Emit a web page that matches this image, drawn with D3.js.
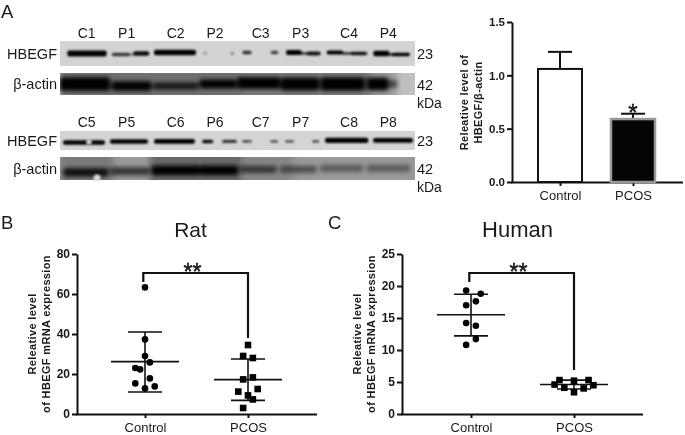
<!DOCTYPE html>
<html><head><meta charset="utf-8">
<script src="https://d3js.org/d3.v7.min.js"></script>
<style>html,body{margin:0;padding:0;background:#fff}svg{display:block;filter:blur(.35px)}text{font-family:"Liberation Sans",Arial,sans-serif;fill:#1a1a1a}</style>
</head><body><svg id="c" width="685" height="435"></svg>
<script>
// ---- Panel A blots: lane labels and band segments [start, end, intensity, thickness, shift] in blot units (0-1065)
const lanesTop = ["C1","P1","C2","P2","C3","P3","C4","P4"];
const lanesBottom = ["C5","P5","C6","P6","C7","P7","C8","P8"];
const laneLabelPos = [80,200,347,465,602,722,867,985];
const bandsHbegf1 = [[22,140,1.2,15,0],[155,210,.7,9,1],[205,225,.35,6,1],[220,268,.95,11,0],[282,408,1.2,14,-1],[430,440,.25,7,0],[512,522,.35,7,0],[547,575,.75,9,-1],[632,655,.65,9,-1],[678,725,1.2,12,-1],[720,745,.6,8,0],[740,782,.9,10,0],[800,850,1.2,10,-1],[845,872,.65,7,0],[870,922,.9,9,0],[940,988,1.25,14,0],[985,1000,.7,8,1],[995,1050,1,9,1]];
const haze1 = [];
const actin1 = [[0,150,1.4,34,0],[155,275,1.05,24,2],[280,415,.8,18,2],[418,530,1.1,22,0],[532,660,1.25,30,-1],[662,778,1.3,32,0],[782,915,1.4,34,0],[920,985,1.3,32,0],[985,1012,.5,20,0]];
const hazeActin1 = [[0,540,.42],[540,930,.36],[930,1010,.2]];
const bandsHbegf2 = [[9,135,1,11,1],[150,264,1.05,11,0],[282,405,1.15,12,0],[426,460,.95,9,0],[486,531,.7,8,0],[546,576,.55,7,0],[630,655,.5,7,0],[675,702,.5,7,0],[756,778,.55,7,0],[795,925,1.25,13,-1],[939,1059,1.2,12,-1]];
const actin2 = [[10,145,.85,22,2],[150,270,.6,20,1],[275,420,1.05,24,0],[420,535,1,24,0],[540,650,.55,18,-1],[660,770,.42,18,-1],[780,910,.32,18,-2],[920,1050,.32,18,-2]];
const hazeActin2 = [[0,160,.2],[270,545,.32],[545,700,.12]];
const hazeHbegf = [];
const blotRows = [
  {name:"HBEGF", mw:"23", bands:bandsHbegf1, haze:haze1, y0:41, y1:66, bg:"#d3d3d3", cy:.5},
  {name:"β-actin", mw:"42", bands:actin1, haze:hazeActin1, y0:73, y1:95, bg:"#c0c0c0", cy:.5},
  {name:"HBEGF", mw:"23", bands:bandsHbegf2, haze:hazeHbegf, y0:131, y1:150, bg:"#d4d4d4", cy:.55},
  {name:"β-actin", mw:"42", bands:actin2, haze:hazeActin2, y0:157, y1:180, bg:"#999999", cy:.58}
];
// small bubbles on the membrane: [blot unit, row index, radius]
const bubbles = [[87,2,2.8],[111,3,3.5]];
// ---- Panel A bar chart
const barCats = ["Control","PCOS"];
const barMeans = [1.06,0.59];
const barErr = [1.22,0.64];
const barTicks = [0,0.5,1,1.5];
// ---- Panel B
const ratCtrl = [63.3,37.3,29,25.8,23,22.3,17.8,15.3,12.8,13.8];
const ratCtrlSlot = [0,0,0,1,-2,-1,1,-2,0,2];
const ratPcos = [34.5,29,28,17.3,18.3,11.2,12.5,9.3,7.3,3];
const ratPcosSlot = [0,-1,1,-1,1,-2,2,0,1,-1];
const ratStats = [[26.2,11,41],[17.2,6.8,27.5]];
const ratTicks = [0,20,40,60,80];
// ---- Panel C
const humCtrl = [19.3,18.8,17,17.6,14.2,13.8,11.7,10.8];
const humCtrlSlot = [-1,2,-1,1,-1,1,1,-1];
const humPcos = [5.3,5.2,5.3,4.6,4.5,4.1,4,3.4];
const humPcosSlot = [-3,0,3,-4,4,-2,2,0];
const humStats = [[15.5,12.2,18.7],[4.6,3.9,5.3]];
const humTicks = [0,5,10,15,20,25];

const svg = d3.select("#c");
const defs = svg.append("defs");
[["b1",.9],["b2",2],["b3",3]].forEach(([id,s])=>{
  defs.append("filter").attr("id",id).attr("x","-20%").attr("y","-60%").attr("width","140%").attr("height","220%")
    .append("feGaussianBlur").attr("stdDeviation",s);
});
const ink = "#111";
function label(x,y,t,size,anchor,weight){
  return svg.append("text").attr("x",x).attr("y",y).attr("font-size",size).attr("text-anchor",anchor||"start").attr("font-weight",weight||"normal").text(t);
}
label(1,17.5,"A",18.5);label(1,229,"B",18.5);label(328,229,"C",18.5);

// ---- blots
const bx = d3.scaleLinear().domain([0,1065]).range([60,415]);
const shade = d3.scaleLinear().domain([0,1]).range([.12,1]).clamp(true);
blotRows.forEach((r,i)=>{
  const h = r.y1-r.y0, clipId="clip"+i;
  defs.append("clipPath").attr("id",clipId).append("rect").attr("x",bx(0)).attr("y",r.y0).attr("width",bx(1065)-bx(0)).attr("height",h);
  svg.append("rect").attr("x",bx(0)).attr("y",r.y0).attr("width",bx(1065)-bx(0)).attr("height",h).attr("fill",r.bg);
  const g = svg.append("g").attr("clip-path",`url(#${clipId})`);
  const isActin = r.name!=="HBEGF";
  g.append("g").attr("filter","url(#b3)").selectAll("rect").data(r.haze).join("rect")
    .attr("x",d=>bx(d[0])).attr("width",d=>bx(d[1])-bx(d[0])).attr("y",r.y0-6).attr("height",h+12)
    .attr("fill","#000").attr("opacity",d=>d[2]);
  const u = g.append("g").attr("filter",isActin?"url(#b2)":"url(#b1)");
  u.selectAll("rect").data(r.bands).join("rect")
    .attr("x",d=>bx(d[0])).attr("width",d=>bx(d[1])-bx(d[0]))
    .attr("y",d=>r.y0+h*r.cy-d[3]/5+d[4]).attr("height",d=>d[3]*.4)
    .attr("rx",2).attr("fill","#000").attr("opacity",d=>shade(d[2]));
  label(57,(r.y0+r.y1)/2+5,r.name,14.5,"end");
  label(417,(r.y0+r.y1)/2+5.5,r.mw,14.5);
});
bubbles.forEach(b=>{
  svg.append("circle").attr("cx",bx(b[0])).attr("cy",b[1]===2?142:178).attr("r",b[2]).attr("fill","#ddd").attr("filter","url(#b1)");
});
label(417,108,"kDa",14);label(417,192,"kDa",14);
[[lanesTop,38],[lanesBottom,127]].forEach(([l,y])=>{
  svg.append("g").selectAll("text").data(l).join("text").attr("x",(d,i)=>bx(laneLabelPos[i])).attr("y",y).attr("font-size",14).attr("text-anchor","middle").text(d=>d);
});

function axes(x0,x1,yBot,y,ticks,cx,fmt,fs){
  const sw=2;
  const ax=svg.append("g").attr("transform",`translate(${x0},0)`).call(d3.axisLeft(y).tickValues(ticks).tickFormat(fmt).tickSize(5).tickSizeOuter(0).tickPadding(2));
  ax.select(".domain").attr("stroke",ink).attr("stroke-width",sw);
  ax.selectAll(".tick line").attr("stroke",ink).attr("stroke-width",sw);
  ax.selectAll("text").attr("font-size",fs).attr("font-weight","bold").attr("font-family",'"Liberation Sans",sans-serif').attr("fill","#1a1a1a");
  const bot=svg.append("g").attr("transform",`translate(0,${yBot})`).call(d3.axisBottom(cx).tickSize(4).tickSizeOuter(0).tickPadding(4.5));
  bot.select(".domain").remove();
  bot.append("line").attr("x1",x0-1).attr("x2",x1).attr("y1",.5).attr("y2",.5).attr("stroke",ink).attr("stroke-width",sw);
  bot.selectAll(".tick line").attr("stroke",ink).attr("stroke-width",sw);
  bot.selectAll("text").attr("font-size",13).attr("font-family",'"Liberation Sans",sans-serif').attr("fill","#1a1a1a");
}
function yTitle(x,y,lines,size,gap){
  const t=svg.append("text").attr("transform",`translate(${x},${y}) rotate(-90)`).attr("text-anchor","middle").attr("font-size",size).attr("font-weight","bold").attr("letter-spacing",.35);
  lines.forEach((l,i)=>t.append("tspan").attr("x",0).attr("dy",i?gap:0).text(l));
}
function stars(x,y,t,size){
  return label(x,y,t,size,"middle").attr("stroke",ink).attr("stroke-width",.5);
}

// ---- Panel A bars
{
  const y=d3.scaleLinear().domain([0,1.5]).range([182,22]);
  const cx=d3.scalePoint().domain(barCats).range([560,633]);
  axes(512,683,182,y,barTicks,cx,d3.format(".1f"),11.5);
  const bw=44;
  barCats.forEach((c,i)=>{
    const px=cx(c);
    svg.append("line").attr("x1",px).attr("x2",px).attr("y1",y(barMeans[i])).attr("y2",y(barErr[i])).attr("stroke",ink).attr("stroke-width",2);
    svg.append("line").attr("x1",px-12).attr("x2",px+12).attr("y1",y(barErr[i])).attr("y2",y(barErr[i])).attr("stroke",ink).attr("stroke-width",2);
    svg.append("rect").attr("x",px-bw/2).attr("width",bw).attr("y",y(barMeans[i])).attr("height",y(0)-y(barMeans[i]))
      .attr("fill",i?"#050505":"#fff").attr("stroke",i?"#999":ink).attr("stroke-width",i?2.5:2);
  });
  stars(cx("PCOS"),121,"*",24);
  yTitle(468,102.5,["Releative level of","HBEGF/β-actin"],11,13.5);
}
// ---- scatter panels
function scatter(cfg){
  const y=d3.scaleLinear().domain(cfg.dom).range([414,254]);
  const cx=d3.scalePoint().domain(barCats).range(cfg.cats);
  axes(cfg.x0,cfg.x1,414,y,cfg.ticks,cx,d3.format("d"),12);
  const slot=d3.scaleLinear().domain([-1,1]).range([-4.85,4.85]);
  cfg.stats.forEach((s,i)=>{
    const c=cx(barCats[i]);
    svg.append("line").attr("x1",c).attr("x2",c).attr("y1",y(s[1])).attr("y2",y(s[2])).attr("stroke",ink).attr("stroke-width",1.6);
    svg.append("line").attr("x1",c-34).attr("x2",c+34).attr("y1",y(s[0])).attr("y2",y(s[0])).attr("stroke",ink).attr("stroke-width",1.6);
    [s[1],s[2]].forEach(v=>svg.append("line").attr("x1",c-17).attr("x2",c+17).attr("y1",y(v)).attr("y2",y(v)).attr("stroke",ink).attr("stroke-width",1.6));
  });
  svg.append("g").selectAll("circle").data(d3.zip(cfg.c,cfg.cs)).join("circle")
    .attr("cx",d=>cx(barCats[0])+slot(d[1])).attr("cy",d=>y(d[0])).attr("r",3.3).attr("fill","#000");
  svg.append("g").selectAll("rect").data(d3.zip(cfg.p,cfg.ps)).join("rect")
    .attr("x",d=>cx(barCats[1])+slot(d[1])-3.3).attr("y",d=>y(d[0])-3.3).attr("width",6.6).attr("height",6.6).attr("fill","#000");
  const a=cx(barCats[0]),b=cx(barCats[1]);
  svg.append("path").attr("d",`M${a-1.7},${cfg.bl} V273 H${b} V${cfg.br}`).attr("fill","none").attr("stroke",ink).attr("stroke-width",2.2);
  stars((a+b)/2-4,280,"**",23);
  label((a+b)/2-cfg.tshift,237,cfg.title,cfg.tsize,"middle");
  yTitle(cfg.tx,334,["Releative level","of HBEGF mRNA expression"],11,14);
}
scatter({dom:[0,80],ticks:ratTicks,x0:77,x1:317,cats:[145,248],stats:ratStats,c:ratCtrl,cs:ratCtrlSlot,p:ratPcos,ps:ratPcosSlot,bl:282,br:338,title:"Rat",tx:36,tshift:6,tsize:21});
scatter({dom:[0,25],ticks:humTicks,x0:402,x1:643,cats:[471,574],stats:humStats,c:humCtrl,cs:humCtrlSlot,p:humPcos,ps:humPcosSlot,bl:282,br:370,title:"Human",tx:361,tshift:5,tsize:22});
</script></body></html>
